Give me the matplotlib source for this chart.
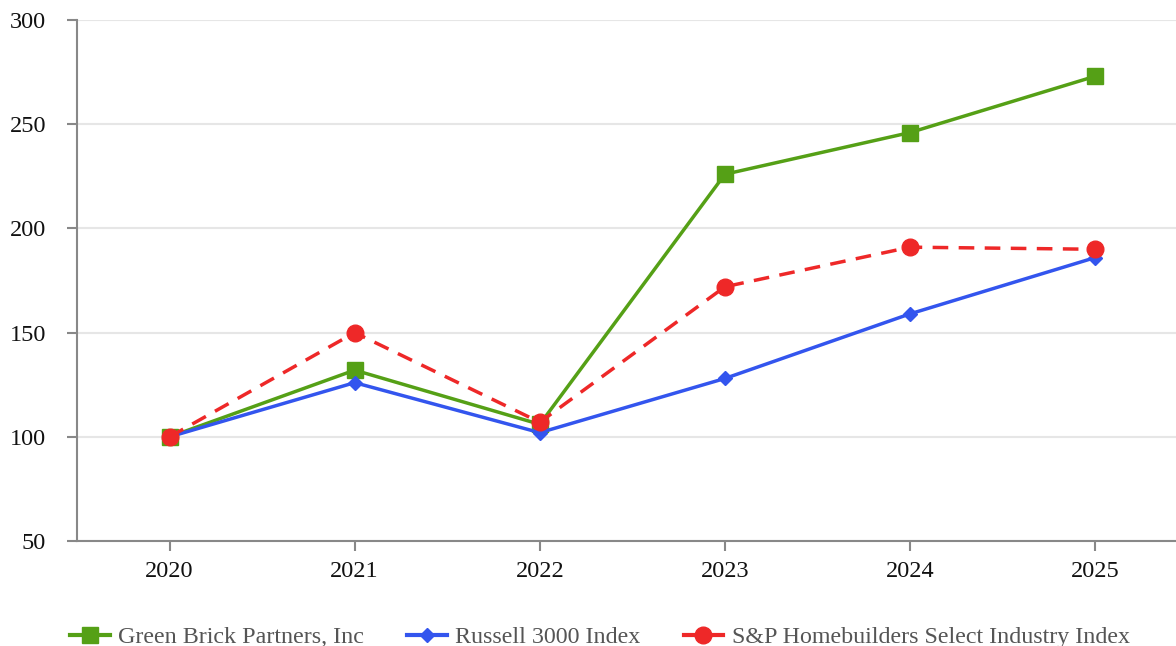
import matplotlib.pyplot as plt
from matplotlib.lines import Line2D

years = ["2020", "2021", "2022", "2023", "2024", "2025"]
green_brick = [100, 132, 106, 226, 246, 273]
russell = [100, 126, 102, 128, 159, 186]
homebuilders = [100, 150, 107, 172, 191, 190]

plt.rcParams['font.family'] = ['Liberation Serif', 'DejaVu Serif']

fig = plt.figure(figsize=(11.76, 6.46), dpi=100)
ax = fig.add_axes([0.0655, 0.1625, 0.9345, 0.8065])

x = list(range(len(years)))
green = "#55a016"
blue = "#3355ee"
red = "#ee2828"

ax.plot(x, green_brick, color=green, lw=2.5, marker="s", ms=12, zorder=3,
        label="Green Brick Partners, Inc")
ax.plot(x, russell, color=blue, lw=2.5, marker="D", ms=7, zorder=4,
        label="Russell 3000 Index")
ax.plot(x, homebuilders, color=red, lw=2.5, ls=(0, (4.5, 3)), marker="o", ms=12,
        zorder=5, label="S&P Homebuilders Select Industry Index")

ax.set_xlim(-0.5, 5.437)
ax.set_ylim(50, 300)
ax.set_xticks(x)
ax.set_xticklabels(years)
ax.set_yticks([50, 100, 150, 200, 250, 300])
ax.grid(axis="y", color="#e6e6e6", lw=1.5, zorder=0)
ax.set_axisbelow(True)

for s in ["top", "right"]:
    ax.spines[s].set_visible(False)
for s in ["left", "bottom"]:
    ax.spines[s].set_color("#888888")
    ax.spines[s].set_linewidth(1.5)
ax.tick_params(axis="both", length=7.2, width=1.5, color="#888888",
               labelsize=17.5, labelcolor="#111111")
ax.tick_params(axis="x", pad=7)
ax.tick_params(axis="y", pad=15)

handles = [
    Line2D([], [], color=green, lw=3, marker="s", ms=12),
    Line2D([], [], color=blue, lw=3, marker="D", ms=7),
    Line2D([], [], color=red, lw=3, marker="o", ms=12),
]
labels = ["Green Brick Partners, Inc", "Russell 3000 Index",
          "S&P Homebuilders Select Industry Index"]
leg = fig.legend(handles, labels, loc="lower center", bbox_to_anchor=(0.51, -0.037),
                 ncol=3, frameon=False, fontsize=17.3, handlelength=1.65,
                 columnspacing=1.8, handletextpad=0.35)
for t in leg.get_texts():
    t.set_color("#555555")

fig.savefig("out.png", dpi=100)
